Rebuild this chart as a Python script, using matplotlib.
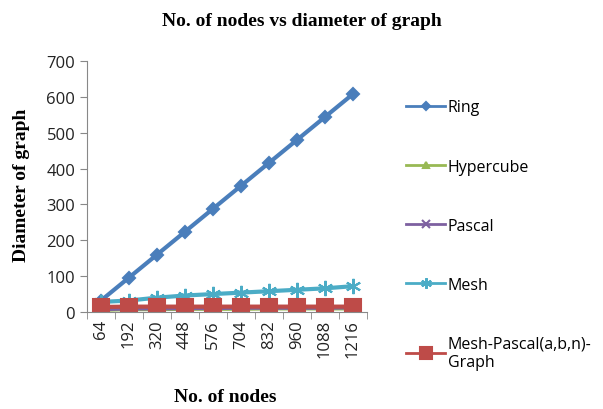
import matplotlib.pyplot as plt
import numpy as np

nodes = ["64", "192", "320", "448", "576", "704", "832", "960", "1088", "1216"]
ring = [32, 96, 160, 224, 288, 352, 416, 480, 544, 608]
hypercube = [6, 8, 8, 9, 9, 9, 10, 10, 10, 10]
pascal = [8, 10, 10, 11, 11, 12, 12, 12, 12, 13]
mesh = [28, 32, 40, 46, 50, 54, 58, 62, 66, 72]
mesh_pascal = [14, 15, 15, 15, 15, 15, 15, 15, 15, 15]

series = [
    ("Ring", ring, "#4A7EBB", "D", 6),
    ("Hypercube", hypercube, "#98B954", "^", 7),
    ("Pascal", pascal, "#7D60A0", "x", 8),
    ("Mesh", mesh, "#4BACC6", (6, 2, 0), 11),
    ("Mesh-Pascal(a,b,n)-\nGraph", mesh_pascal, "#BE4B48", "s", 12),
]

fig = plt.figure(figsize=(6.03, 4.10), dpi=100)
ax = fig.add_axes([87 / 603, 1 - 313 / 410, (367 - 87) / 603, (313 - 62) / 410])

x = np.arange(len(nodes))
handles = []
for name, vals, col, mk, ms in series:
    h, = ax.plot(x, vals, color=col, lw=3, marker=mk, markersize=ms,
                 markeredgewidth=1.5, label=name)
    handles.append(h)

ax.set_xlim(-0.5, len(nodes) - 0.5)
ax.set_ylim(0, 700)
ax.set_yticks(range(0, 701, 100))
ax.set_xticks(x)
ax.set_xticklabels(nodes, rotation=90, fontsize=12, family="Open Sans", color="#222222")
ax.set_xticks(np.arange(-0.5, len(nodes)), minor=True)
ax.tick_params(axis="x", which="major", length=0, pad=5)
ax.tick_params(axis="x", which="minor", length=5, color="#888888")
ax.tick_params(axis="y", length=5, color="#888888", labelsize=12)
for lab in ax.get_yticklabels():
    lab.set_family("Open Sans")
    lab.set_color("#222222")

for s in ["top", "right"]:
    ax.spines[s].set_visible(False)
for s in ["left", "bottom"]:
    ax.spines[s].set_color("#888888")

fig.text(0.5, 1 - 22 / 410, "No. of nodes vs diameter of graph", ha="center", va="center",
         family="Liberation Serif", weight="bold", fontsize=14)
fig.text(225 / 603, 1 - 398 / 410, "No. of nodes", ha="center", va="center",
         family="Liberation Serif", weight="bold", fontsize=14)
fig.text(22 / 603, 1 - 185 / 410, "Diameter of graph", ha="center", va="center", rotation=90,
         family="Liberation Serif", weight="bold", fontsize=14)

leg = fig.legend(handles=handles, loc="upper left", bbox_to_anchor=(392 / 603, 1 - 86 / 410),
                 frameon=False, prop={"family": "Open Sans", "size": 11.5}, labelspacing=2.7,
                 handlelength=2.4, handletextpad=0.2, markerscale=0.7)
for ln in leg.get_lines():
    ln.set_linewidth(2)

fig.savefig("out.png", dpi=100)
